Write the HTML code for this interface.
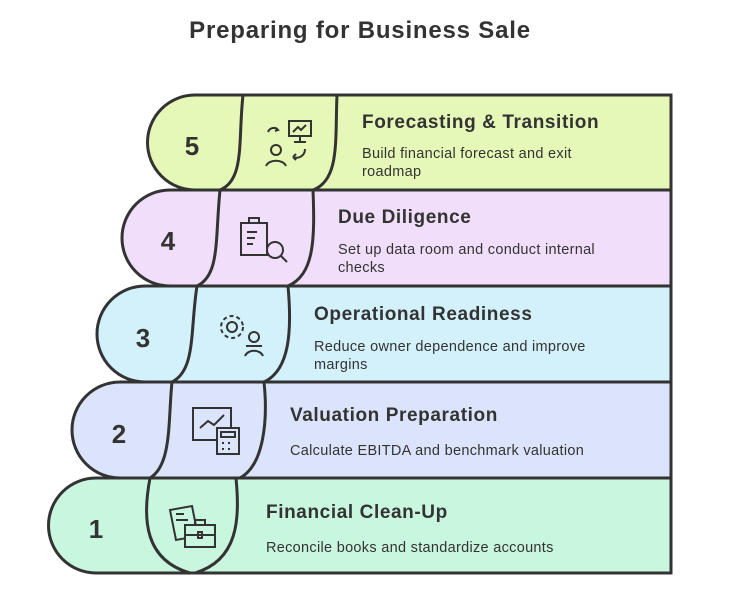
<!DOCTYPE html>
<html><head><meta charset="utf-8"><style>
body{margin:0;background:#fff;width:737px;height:601px;overflow:hidden}
svg text{font-family:"Liberation Sans",sans-serif;fill:#333}
.t{font-size:19px;font-weight:bold;letter-spacing:0.6px}
.d{font-size:14.5px;letter-spacing:0.3px}
.n{font-size:26px;font-weight:bold;text-anchor:middle}
</style></head><body>
<svg width="737" height="601" viewBox="0 0 737 601" xmlns="http://www.w3.org/2000/svg">
<text x="360" y="38" text-anchor="middle" style="font-size:24px;font-weight:bold;letter-spacing:0.8px">Preparing for Business Sale</text>
<g stroke="#333" stroke-width="3" fill="none">
<path d="M96,478 H671 V573 H96 A47.5,47.5 0 0 1 96,478 Z" fill="#c9f6de"/>
<path d="M150,478 C142,520 145,560 190,573 M236,478 C240,520 238,560 195,573"/>
<path d="M120,382 H671 V478 H120 A48,48 0 0 1 120,382 Z" fill="#dbe4fb"/>
<path d="M172,382 C168,420 172,465 150,478 M264,382 C268,420 264,465 240,478"/>
<path d="M145,286 H671 V382 H145 A48,48 0 0 1 145,286 Z" fill="#d3f1fb"/>
<path d="M197,286 C190,330 196,370 172,382 M288,286 C292,330 290,370 264,382"/>
<path d="M170,190 H671 V286 H170 A48,48 0 0 1 170,190 Z" fill="#f1defa"/>
<path d="M220,190 C215,240 220,275 197,286 M313,190 C315,240 314,275 288,286"/>
<path d="M195,95 H671 V190 H195 A47.5,47.5 0 0 1 195,95 Z" fill="#e6f8b8"/>
<path d="M243,95 C238,140 245,180 220,190 M337,95 C335,140 340,180 313,190"/>
</g>
<text class="n" x="192" y="155">5</text>
<text class="n" x="168" y="250">4</text>
<text class="n" x="143" y="347">3</text>
<text class="n" x="119" y="443">2</text>
<text class="n" x="96" y="538">1</text>
<text class="t" x="362" y="128">Forecasting &amp; Transition</text>
<text class="d" x="362" y="158">Build financial forecast and exit</text>
<text class="d" x="362" y="176">roadmap</text>
<text class="t" x="338" y="223">Due Diligence</text>
<text class="d" x="338" y="254">Set up data room and conduct internal</text>
<text class="d" x="338" y="272">checks</text>
<text class="t" x="314" y="320">Operational Readiness</text>
<text class="d" x="314" y="351">Reduce owner dependence and improve</text>
<text class="d" x="314" y="369">margins</text>
<text class="t" x="290" y="421">Valuation Preparation</text>
<text class="d" x="290" y="455">Calculate EBITDA and benchmark valuation</text>
<text class="t" x="266" y="518">Financial Clean-Up</text>
<text class="d" x="266" y="552">Reconcile books and standardize accounts</text>
<g stroke="#333" stroke-width="2" fill="none">
<rect x="289" y="121" width="22" height="15"/><path d="M300,136 v6 M294,142 h12 M293,132 l5,-5 3,3 5,-5 M268,132 c2,-5 8,-5 10,-2 M276,128 l2,2 -3,1"/>
<circle cx="276" cy="150" r="5"/><path d="M266,166 c3,-7 17,-7 20,0 M305,149 c0,8 -8,10 -12,8 M293,157 l3,-3 M293,157 l3,3"/>
<rect x="241" y="223" width="26" height="32"/><path d="M249,222 v-4 h10 v4 M247,232 h10 M247,238 h8 M247,244 h6"/><circle cx="275" cy="250" r="8"/><path d="M281,256 l6,6"/>
<circle cx="232" cy="327" r="11" stroke-dasharray="4 3"/><circle cx="232" cy="327" r="5"/><circle cx="254" cy="337" r="5"/><path d="M246,346 h16 M245,356 c3,-7 15,-7 18,0"/>
<rect x="193" y="408" width="38" height="32"/><path d="M200,428 l8,-7 6,4 10,-10"/><rect x="217" y="428" width="22" height="26" fill="#dbe4fb"/><rect x="221" y="432" width="14" height="5"/><path d="M222,443 h2 M228,443 h2 M222,449 h2 M228,449 h2"/>
<path d="M170,510 l22,-4 6,30 -22,4 z" fill="#c9f6de"/><path d="M176,514 h8 M176,520 h12"/><rect x="185" y="525" width="30" height="22" fill="#c9f6de"/><path d="M195,525 v-5 h10 v5 M185,535 h30"/><rect x="198" y="532" width="4" height="6"/>
</g>
</svg>
</body></html>
